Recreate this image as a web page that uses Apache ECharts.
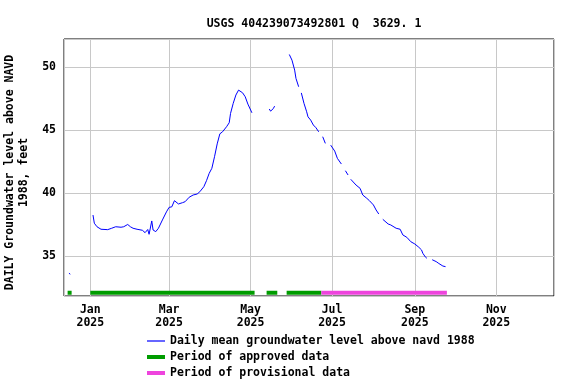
<!DOCTYPE html>
<html>
<head>
<meta charset="utf-8">
<script src="https://cdn.jsdelivr.net/npm/echarts@6/dist/echarts.min.js"></script>
<style>
html,body{margin:0;padding:0;background:#fff;}
#chart{width:576px;height:384px;}
</style>
</head>
<body>
<div id="chart"></div>
<script>
// ---- data ----
const titleText = 'USGS 404239073492801 Q  3629. 1';
const yAxisName = 'DAILY Groundwater level above NAVD\n1988, feet';
const monthNames = ['Jan','Feb','Mar','Apr','May','Jun','Jul','Aug','Sep','Oct','Nov','Dec'];
const seriesNames = ['Daily mean groundwater level above navd 1988','Period of approved data','Period of provisional data'];

const levelDates = [
  '2024-12-16','2024-12-17','2024-12-18',
  '2025-01-03','2025-01-04','2025-01-06','2025-01-09','2025-01-14','2025-01-17','2025-01-20','2025-01-21',
  '2025-01-24','2025-01-26','2025-01-29','2025-01-31','2025-02-02','2025-02-05','2025-02-09','2025-02-11',
  '2025-02-13','2025-02-14','2025-02-16','2025-02-17','2025-02-19','2025-02-21','2025-02-24','2025-02-27',
  '2025-03-01','2025-03-03','2025-03-05','2025-03-08','2025-03-11','2025-03-13','2025-03-16','2025-03-19',
  '2025-03-22','2025-03-24','2025-03-27','2025-03-29','2025-03-31','2025-04-02','2025-04-04','2025-04-06',
  '2025-04-08','2025-04-10','2025-04-13','2025-04-15','2025-04-16','2025-04-18','2025-04-20','2025-04-22',
  '2025-04-23','2025-04-25','2025-04-27','2025-04-29','2025-05-02','2025-05-03',
  '2025-05-15','2025-05-16','2025-05-17','2025-05-18','2025-05-19','2025-05-20',
  '2025-05-30','2025-06-01','2025-06-03','2025-06-04','2025-06-06','2025-06-07',
  '2025-06-08','2025-06-10','2025-06-12','2025-06-13','2025-06-15','2025-06-17','2025-06-19','2025-06-21','2025-06-22',
  '2025-06-24','2025-06-26','2025-06-27',
  '2025-06-30','2025-07-03','2025-07-05','2025-07-08','2025-07-09',
  '2025-07-11','2025-07-13','2025-07-14',
  '2025-07-15','2025-07-19','2025-07-22','2025-07-24','2025-07-27','2025-07-29','2025-08-01','2025-08-03','2025-08-05','2025-08-06',
  '2025-08-08','2025-08-12','2025-08-14','2025-08-18','2025-08-21','2025-08-23','2025-08-26','2025-08-29',
  '2025-09-01','2025-09-04','2025-09-06','2025-09-07','2025-09-09','2025-09-10','2025-09-11',
  '2025-09-14','2025-09-17','2025-09-19','2025-09-22','2025-09-24'
];
const levelValues = [
  33.63,33.55,null,
  38.25,37.6,37.32,37.12,37.09,37.2,37.32,37.2,
  37.28,37.32,37.5,37.32,37.2,37.12,37.04,36.85,
  37.1,36.72,37.78,37.06,36.93,37.2,37.86,38.5,
  38.86,38.9,39.39,39.13,39.23,39.31,39.66,39.84,
  39.92,40.1,40.5,40.98,41.56,41.96,42.88,43.9,
  44.7,44.86,45.26,45.58,46.32,47.12,47.78,48.17,
  48.04,47.96,47.64,47.06,46.37,null,
  46.67,46.5,46.55,46.7,46.9,null,
  51.0,50.55,49.76,49.1,48.44,null,
  47.95,47.12,46.45,46.05,45.79,45.4,45.18,44.86,null,
  44.47,43.94,null,
  43.8,43.33,42.75,42.3,null,
  41.77,41.43,null,
  41.09,40.63,40.37,39.84,39.58,39.39,39.05,38.65,38.33,null,
  37.91,37.54,37.46,37.2,37.12,36.67,36.48,36.13,
  35.95,35.69,35.48,35.21,34.9,34.82,null,
  34.7,34.55,34.4,34.2,34.15
];

const approvedStart = ['2024-12-15','2025-01-01','2025-05-13','2025-05-28'];
const approvedEnd   = ['2024-12-18','2025-05-04','2025-05-21','2025-06-23'];
const provisionalStart = ['2025-06-23'];
const provisionalEnd   = ['2025-09-25'];
const periodLevel = 32.07;

const xMin = '2024-12-12 07:00';
const xMax = '2025-12-14 05:00';
const yMin = 31.82;
const yMax = 52.23;

// ---- build ----
function pairs(dates, vals){ return dates.map((d,i)=>[d, vals[i]]); }
function periods(starts, ends, lvl){
  const out = [];
  starts.forEach((s,i)=>{ out.push([s,lvl]); out.push([ends[i],lvl]); if(i<starts.length-1) out.push([ends[i],null]); });
  return out;
}
const FONT = 'DejaVu Sans Mono';
const txt = {fontFamily: FONT, fontWeight: 'bold', fontSize: 11.5, color: '#000'};
function legendRow(name, top, h){
  return {
    orient: 'vertical', left: 147, top: top, padding: 0,
    icon: 'rect', itemWidth: 18, itemHeight: h,
    textStyle: Object.assign({}, txt, {lineHeight: 14}),
    data: [name]
  };
}

const chart = echarts.init(document.getElementById('chart'), null, {renderer:'canvas'});
chart.setOption({
  animation: false,
  backgroundColor: '#fff',
  title: {
    text: titleText, left: 309, top: 13, textAlign: 'center',
    textStyle: Object.assign({}, txt, {fontSize: 11.5})
  },
  grid: {
    left: 64, right: 22, top: 39, bottom: 88,
    show: true, borderColor: '#000', borderWidth: 1,
    outerBoundsMode: 'none', containLabel: false
  },
  legend: [
    legendRow(seriesNames[0], 334, 1.2),
    legendRow(seriesNames[1], 350, 4),
    legendRow(seriesNames[2], 366, 4)
  ],
  xAxis: {
    type: 'time', min: xMin, max: xMax, splitNumber: 5,
    axisLine: {show: false}, axisTick: {show: false},
    splitLine: {show: true, lineStyle: {color: '#c8c8c8', width: 1}},
    axisLabel: Object.assign({}, txt, {
      margin: 8, lineHeight: 13,
      formatter: function(v){ const d = new Date(v); return monthNames[d.getMonth()] + '\n' + d.getFullYear(); }
    })
  },
  yAxis: {
    type: 'value', min: yMin, max: yMax, splitNumber: 4,
    name: yAxisName, nameLocation: 'middle', nameRotate: 90, nameGap: 32,
    nameTextStyle: Object.assign({}, txt, {lineHeight: 14, padding: [0, 10, 0, 0]}),
    axisLine: {show: false}, axisTick: {show: false},
    splitLine: {show: true, lineStyle: {color: '#c8c8c8', width: 1}},
    axisLabel: Object.assign({}, txt, {margin: 8, showMinLabel: false, showMaxLabel: false})
  },
  series: [
    {
      name: seriesNames[0], type: 'line',
      data: pairs(levelDates, levelValues), symbol: 'none', connectNulls: false,
      lineStyle: {color: '#0000ff', width: 1}, itemStyle: {color: '#0000ff'}, z: 3
    },
    {
      name: seriesNames[1], type: 'line',
      data: periods(approvedStart, approvedEnd, periodLevel), symbol: 'none',
      lineStyle: {color: '#009c00', width: 4, cap: 'butt'}, itemStyle: {color: '#009c00'}, z: 2
    },
    {
      name: seriesNames[2], type: 'line',
      data: periods(provisionalStart, provisionalEnd, periodLevel), symbol: 'none',
      lineStyle: {color: '#ee44dd', width: 4, cap: 'butt'}, itemStyle: {color: '#ee44dd'}, z: 2
    }
  ]
});
</script>
</body>
</html>
